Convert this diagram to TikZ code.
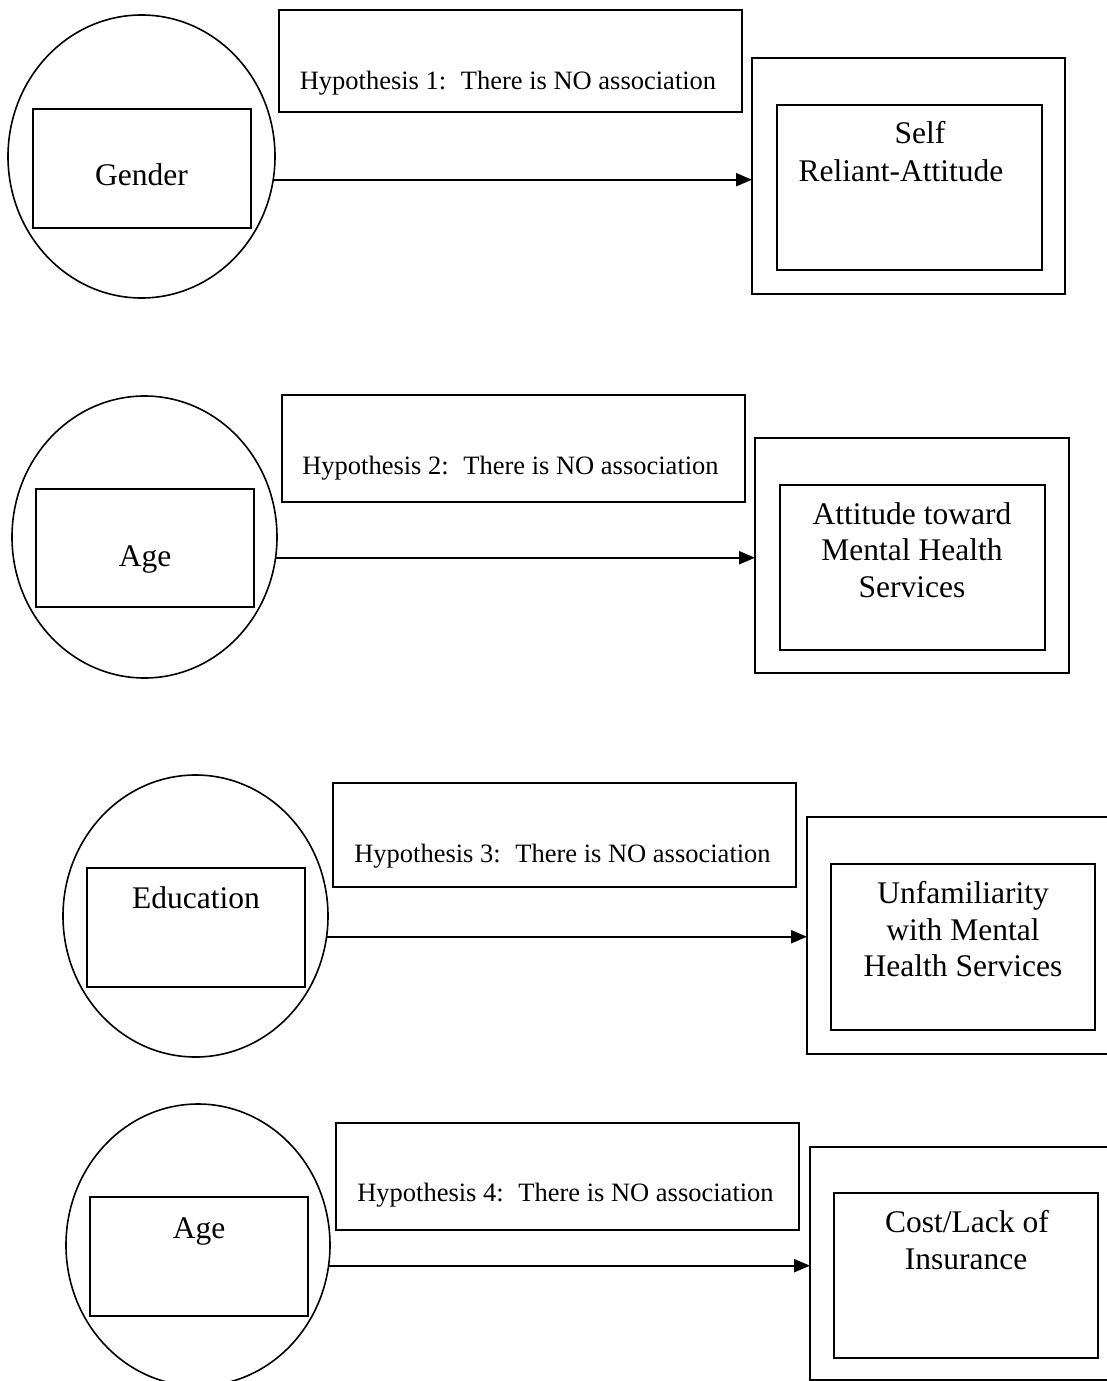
\documentclass[tikz,border=0pt]{standalone}
\usepackage{fontspec}
\setmainfont{Liberation Serif}
\usetikzlibrary{shapes.geometric,arrows.meta}
\begin{document}
\begin{tikzpicture}[x=1pt,y=-1pt,
  every node/.style={inner sep=0pt, outer sep=0pt},
  boxs/.style={draw, line width=1.8pt, rectangle},
  circ/.style={draw, line width=1.6pt, ellipse},
  hyp/.style={font=\fontsize{26.5}{30}\selectfont, text height=18.5pt, text depth=5.8pt, yshift=-3pt},
  lbl/.style={font=\fontsize{31.5}{36}\selectfont, text height=22pt, text depth=7pt, yshift=-3pt},
  arr/.style={line width=2.2pt, -{Triangle[length=16pt,width=13pt]}}
]
\useasboundingbox (0,0) rectangle (1107,1381);
\fill[white] (0,0) rectangle (1107,1381);

% ---------- Group 1 ----------
\node[circ, minimum width=267pt, minimum height=283pt] (e1) at (141.5,156.5) {};
\node[boxs, minimum width=218pt, minimum height=119pt] (in1) at (142,168.5) {};
\node[lbl] (t1) at (141.5,175) {Gender};
\node[boxs, minimum width=463pt, minimum height=102pt] (h1) at (510.5,61) {};
\node[hyp] (ht1) at (508,80) {Hypothesis 1:\hspace{0.55em}There is NO association};
\node[boxs, minimum width=313pt, minimum height=236pt] (o1) at (908.5,176) {};
\node[boxs, minimum width=265pt, minimum height=165pt] (i1) at (909.5,187.5) {};
\node[lbl] (r1a) at (920,133) {Self};
\node[lbl] (r1b) at (901,171) {Reliant-Attitude};
\draw[arr] (e1.-10.34) -- (e1.-10.34 -| o1.west);

% ---------- Group 2 ----------
\node[circ, minimum width=265pt, minimum height=282pt] (e2) at (144.5,537) {};
\node[boxs, minimum width=218pt, minimum height=118pt] (in2) at (145,548) {};
\node[lbl] (t2) at (145,556) {Age};
\node[boxs, minimum width=463pt, minimum height=107pt] (h2) at (513.5,448.5) {};
\node[hyp] (ht2) at (510.5,465) {Hypothesis 2:\hspace{0.55em}There is NO association};
\node[boxs, minimum width=314pt, minimum height=235pt] (o2) at (912,555.5) {};
\node[boxs, minimum width=265pt, minimum height=165pt] (i2) at (912.5,567.5) {};
\node[lbl] (r2a) at (912,514) {Attitude toward};
\node[lbl] (r2b) at (912,550) {Mental Health};
\node[lbl] (r2c) at (912,587) {Services};
\draw[arr] (e2.-9.32) -- (e2.-9.32 -| o2.west);

% ---------- Group 3 ----------
\node[circ, minimum width=265pt, minimum height=282pt] (e3) at (195.5,916) {};
\node[boxs, minimum width=218pt, minimum height=119pt] (in3) at (196,927.5) {};
\node[lbl] (t3) at (196,898) {Education};
\node[boxs, minimum width=463pt, minimum height=104pt] (h3) at (564.5,835) {};
\node[hyp] (ht3) at (562.5,853) {Hypothesis 3:\hspace{0.55em}There is NO association};
\node[boxs, minimum width=318pt, minimum height=237pt] (o3) at (966,935.5) {};
\node[boxs, minimum width=264pt, minimum height=166pt] (i3) at (963,947) {};
\node[lbl] (r3a) at (963,893) {Unfamiliarity};
\node[lbl] (r3b) at (963,930) {with Mental};
\node[lbl] (r3c) at (963,966) {Health Services};
\draw[arr] (e3.-9.76) -- (e3.-9.76 -| o3.west);

% ---------- Group 4 ----------
\node[circ, minimum width=264pt, minimum height=282pt] (e4) at (198,1245) {};
\node[boxs, minimum width=218pt, minimum height=119pt] (in4) at (199,1256.5) {};
\node[lbl] (t4) at (199,1228) {Age};
\node[boxs, minimum width=463pt, minimum height=107pt] (h4) at (567.5,1176.5) {};
\node[hyp] (ht4) at (565.5,1192) {Hypothesis 4:\hspace{0.55em}There is NO association};
\node[boxs, minimum width=315pt, minimum height=233pt] (o4) at (967.5,1263.5) {};
\node[boxs, minimum width=264pt, minimum height=165pt] (i4) at (966,1275.5) {};
\node[lbl] (r4a) at (967,1222) {Cost/Lack of};
\node[lbl] (r4b) at (966,1259) {Insurance};
\draw[arr] (e4.-9.36) -- (e4.-9.36 -| o4.west);
\end{tikzpicture}
\end{document}
